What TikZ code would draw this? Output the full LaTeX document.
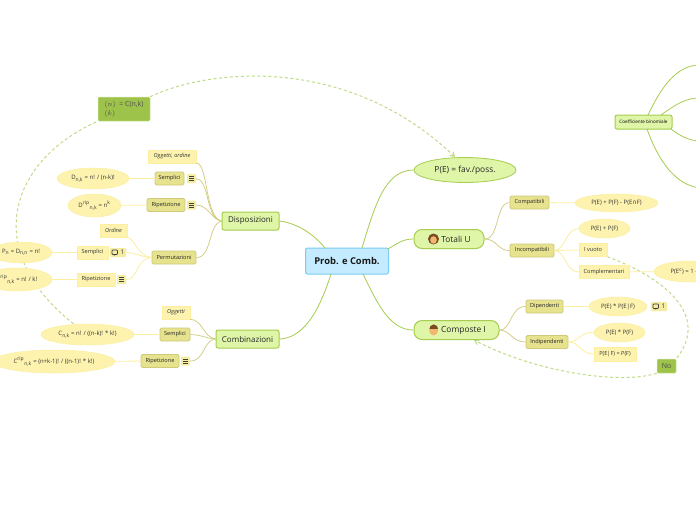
\documentclass[tikz,border=0pt]{standalone}
\usepackage{fontspec}
\setmainfont{Open Sans}
\newfontfamily\symfont{DejaVu Sans}
\usetikzlibrary{arrows.meta, shapes.geometric, calc, backgrounds}
\definecolor{rootline}{HTML}{7CCBF2}
\definecolor{rootfill}{HTML}{C4EBFF}
\definecolor{mainline}{HTML}{A6CD4E}
\definecolor{mainfill}{HTML}{DFF5A8}
\definecolor{subfill}{HTML}{E6E28E}
\definecolor{subline}{HTML}{CFCB7A}
\definecolor{leaffill}{HTML}{FDF3AE}
\definecolor{leafline}{HTML}{FCEFA0}
\definecolor{dashline}{HTML}{BEDB85}
\definecolor{hairbrown}{HTML}{7A4A24}
\definecolor{skintone}{HTML}{F2B76E}
\tikzset{
  rootbox/.style={draw=rootline, fill=rootfill, line width=1pt, rounded corners=2pt, font=\bfseries\fontsize{9.4}{12}\selectfont, text=black!90, inner sep=0pt},
  mainbox/.style={draw=mainline, fill=mainfill, line width=1pt, rounded corners=2pt, font=\fontsize{8}{10}\selectfont, text=black!85, inner sep=0pt},
  mainpill/.style={mainbox, rounded corners=8pt},
  mainoval/.style={draw=mainline, fill=mainfill, line width=.8pt, ellipse, font=\fontsize{8.4}{10}\selectfont, text=black!85, inner sep=0pt},
  coefbox/.style={mainbox, font=\fontsize{4.6}{7}\selectfont, text=black},
  subbox/.style={draw=subline, fill=subfill, line width=.8pt, rounded corners=1.5pt, font=\fontsize{5.6}{8}\selectfont, text=black!85, inner sep=0pt},
  leafbox/.style={draw=leafline, fill=leaffill, line width=.5pt, font=\fontsize{5.6}{8}\selectfont, text=black!80, inner sep=0pt},
  leafoval/.style={leafbox, ellipse, font=\fontsize{6}{8}\selectfont},
  hintbox/.style={leafbox, font=\itshape\fontsize{5.6}{8}\selectfont},
  notebox/.style={draw=dashline!70, fill=mainline!95!black, rounded corners=1pt, line width=.5pt, font=\fontsize{7}{8}\selectfont, text=black!70, inner sep=0pt},
  iconbox/.style={fill=leaffill!60!subfill, rounded corners=1pt, inner sep=0pt, minimum width=9pt, minimum height=9pt},
  mainlink/.style={draw=mainline, line width=.8pt},
  sublink/.style={draw=subline, line width=.7pt},
  leaflink/.style={draw=leafline, line width=.8pt},
  rellink/.style={draw=dashline, line width=1pt, dash pattern=on 3pt off 2.5pt},
  relarrow/.style={rellink, -{Straight Barb[length=4pt,width=5pt]}},
}
\newcommand{\boxnode}[6]{\node[#1, minimum width=#5pt, minimum height=#6pt] (#2) at #3 {#4};}
\newcommand{\linesicon}[1]{\draw[black!75, line width=.7pt] ($(#1)+(-2.5,-2)$) -- ++(5,0) ($(#1)+(-2.5,0)$) -- ++(5,0) ($(#1)+(-2.5,2)$) -- ++(5,0);}
\newcommand{\talkicon}[1]{\draw[black!75, line width=.7pt, rounded corners=.8pt] ($(#1)+(-6,-2.5)$) rectangle ++(5.5,4.5) ($(#1)+(-4,2)$) -- ++(.3,1.2) -- ++(1,-1.2);}
\begin{document}
\begin{tikzpicture}[x=1pt, y=-1pt]
  \useasboundingbox (0,0) rectangle (696,520);
  % free ends on the right border
  \coordinate (coefA) at (700,65);
  \coordinate (coefB) at (700,98);
  \coordinate (coefC) at (700,141);
  \coordinate (coefD) at (700,188);
  % nodes of the map
  \boxnode{rootbox}{root}{(347,261)}{Prob. e Comb.}{83}{26}
  \boxnode{mainoval}{pe}{(465,170)}{P(E) = fav./poss.}{102}{25}
  \boxnode{mainpill}{totali}{(449,239)}{\hspace{14pt}\fontsize{8.4}{10}\selectfont Totali U}{70}{19}
  \boxnode{mainpill}{composte}{(456.5,330)}{\hspace{14pt}\fontsize{8.4}{10}\selectfont Composte I}{85}{19}
  \boxnode{mainbox}{disp}{(250.5,221)}{Disposizioni}{57}{18}
  \boxnode{mainbox}{comb}{(247.5,339)}{Combinazioni}{63}{18}
  \boxnode{coefbox}{coef}{(643.5,122)}{Coefficiente binomiale}{57}{14}
  \node[notebox, minimum width=52pt, minimum height=24pt, align=left] (binom) at (124,109) {$(n)$ \ = C(n,k)\\[1.5pt]$(k)$\hspace{27pt}\null};
  % left, upper part
  \boxnode{hintbox}{oggord}{(172,156.5)}{Oggetti, ordine}{48}{13}
  \boxnode{subbox}{dsem}{(169.5,178.5)}{Semplici}{29}{13}
  \node[iconbox] (dsemi) at (191.5,178.5) {};
  \boxnode{leafoval}{dsemv}{(93,178.5)}{D\textsubscript{n,k} = n! / (n-k)!}{72}{21}
  \boxnode{subbox}{drip}{(166,205)}{Ripetizione}{38}{13}
  \node[iconbox] (dripi) at (191.5,205) {};
  \boxnode{leafoval}{dripv}{(94.5,205.5)}{D\textsuperscript{rip}\textsubscript{n,k} = n\textsuperscript{k}}{53}{23}
  \boxnode{subbox}{perm}{(174,257.5)}{Permutazioni}{44}{13}
  \boxnode{hintbox}{ordine}{(113.5,230.5)}{Ordine}{27}{13}
  \boxnode{leafbox}{psem}{(92.5,252.5)}{Semplici}{31}{13}
  \node[iconbox, minimum width=16pt] (psemi) at (118,252.5) {};
  \boxnode{leafoval}{psemv}{(21,252.5)}{P\textsubscript{n} = D\textsubscript{n,n} = n!}{62}{21}
  \boxnode{leafbox}{prip}{(96,279.5)}{Ripetizione}{38}{13}
  \node[iconbox] (pripi) at (121.5,279.5) {};
  \boxnode{leafoval}{pripv}{(17,279.5)}{P\textsuperscript{rip}\textsubscript{n,k} = n! / k!}{70}{23}
  % left, lower part
  \boxnode{hintbox}{ogg}{(176,312.5)}{Oggetti}{28}{13}
  \boxnode{subbox}{csem}{(175,334.5)}{Semplici}{30}{13}
  \boxnode{leafoval}{csemv}{(87.5,334.5)}{C\textsubscript{n,k} = n! / ((n-k)! * k!)}{93}{21}
  \boxnode{subbox}{crip}{(160,361)}{Ripetizione}{38}{13}
  \node[iconbox] (cripi) at (185.5,361) {};
  \boxnode{leafoval}{cripv}{(54,361.5)}{C\textsuperscript{rip}\textsubscript{n,k} = (n+k-1)! / ((n-1)! * k!)}{122}{23}
  % right part
  \boxnode{subbox}{compat}{(529.5,202.5)}{Compatibili}{39}{13}
  \boxnode{leafoval}{compatv}{(616.5,203)}{P(E) + P(F) - P(E{\symfont ∩}F)}{83}{18}
  \boxnode{subbox}{incomp}{(532,250.5)}{Incompatibili}{44}{13}
  \boxnode{leafoval}{incompv}{(604.5,228.5)}{P(E) + P(F)}{51}{19}
  \boxnode{leafbox}{vuoto}{(593,250)}{I vuoto}{28}{13}
  \boxnode{leafbox}{compl}{(604,272)}{Complementari}{50}{13}
  \boxnode{leafoval}{complv}{(690,271.5)}{P(E\textsuperscript{c}) = 1 - P(E)}{72}{21}
  \boxnode{subbox}{dip}{(544.5,306.5)}{Dipendenti}{37}{13}
  \boxnode{leafoval}{dipv}{(618,306.5)}{P(E) * P(E|F)}{58}{19}
  \node[iconbox, minimum width=16pt] (dipi) at (659,306.5) {};
  \boxnode{subbox}{indip}{(547,342)}{Indipendenti}{42}{13}
  \boxnode{leafoval}{indipv}{(619.5,332.5)}{P(E) * P(F)}{51}{19}
  \boxnode{leafbox}{indipw}{(615,354)}{P(E|F) = P(F)}{42}{14}
  \node[notebox, minimum width=19pt, minimum height=14pt] (no) at (666.5,366) {No};
  % small marks inside the icon boxes
  \linesicon{dsemi} \linesicon{dripi} \linesicon{pripi} \linesicon{cripi}
  \talkicon{psemi} \talkicon{dipi}
  \node[font=\fontsize{6.5}{8}\selectfont, text=black!80, inner sep=0pt] (psemn) at ($(psemi)+(4.5,0)$) {1};
  \node[font=\fontsize{6.5}{8}\selectfont, text=black!80, inner sep=0pt] (dipn) at ($(dipi)+(4.5,0)$) {1};
  % faces
  \fill[hairbrown] (433.5,239) circle (5.5pt);
  \fill[skintone] (433.5,240) ellipse (3.3pt and 3.8pt);
  \fill[skintone] (433.7,330) ellipse (4.5pt and 5.5pt);
  \begin{scope}
    \clip (429,324) rectangle (439,328.3);
    \fill[hairbrown] (433.7,330) ellipse (4.6pt and 5.6pt);
  \end{scope}
  % dashed relations go under the nodes
  \begin{pgfonlayer}{background}
    \fill[white] (0,0) rectangle (696,520);
    \draw[rellink] (csemv.north) ++(-14,0) .. controls (-20,250) and (10,160) .. (binom.south west);
    \draw[relarrow] (binom.north east) .. controls (205,70) and (345,52) .. (455,157);
    \draw[rellink] (vuoto.south east) .. controls (650,272) and (715,310) .. (no.north east);
    \draw[relarrow] (no.south west) .. controls (620,385) and (535,372) .. (474,340);
  \end{pgfonlayer}
  % branches
  \draw[mainlink] (362,248) .. controls (375,205) and (385,170) .. (pe.west);
  \draw[mainlink] (388,249) .. controls (398,243) and (403,239) .. (totali.west);
  \draw[mainlink] (363,274) .. controls (378,305) and (390,330) .. (composte.west);
  \draw[mainlink] (325,248) .. controls (312,232) and (295,223) .. (disp.east);
  \draw[mainlink] (331,274) .. controls (318,315) and (302,338) .. (comb.east);
  \draw[mainlink] (648,115) .. controls (660,90) and (675,65) .. (coefA);
  \draw[mainlink] (661,115) .. controls (675,105) and (685,98) .. (coefB);
  \draw[mainlink] (671,129) .. controls (680,136) and (690,141) .. (coefC);
  \draw[mainlink] (647,129) .. controls (658,160) and (675,185) .. (coefD);
  % sub branches
  \draw[sublink] (disp.west) .. controls (205,218) and (208,162) .. (oggord.south east);
  \draw[sublink] (disp.west) .. controls (205,218) and (210,180) .. (dsemi.east);
  \draw[sublink] (disp.west) .. controls (212,220) and (208,205) .. (dripi.east);
  \draw[sublink] (disp.west) .. controls (208,224) and (212,258) .. (perm.east);
  \draw[leaflink] (perm.west) .. controls (138,256) and (134,238) .. (ordine.south east);
  \draw[leaflink] (perm.west) .. controls (140,257) and (138,253) .. (psemi.east);
  \draw[leaflink] (perm.west) .. controls (136,258) and (138,280) .. (pripi.east);
  \draw[leaflink] (dsem) -- (dsemv);
  \draw[leaflink] (drip) -- (dripv);
  \draw[leaflink] (psem) -- (psemv);
  \draw[leaflink] (prip) -- (pripv);
  \draw[sublink] (comb.west) .. controls (203,337) and (203,320) .. (ogg.south east);
  \draw[sublink] (comb.west) .. controls (205,338) and (202,335) .. (csem.east);
  \draw[sublink] (comb.west) .. controls (203,340) and (205,361) .. (cripi.east);
  \draw[leaflink] (csem) -- (csemv);
  \draw[leaflink] (crip) -- (cripv);
  \draw[sublink] (totali.east) .. controls (500,239) and (495,203) .. (compat.west);
  \draw[sublink] (totali.east) .. controls (497,239) and (498,251) .. (incomp.west);
  \draw[leaflink] (compat) -- (compatv);
  \draw[leaflink] (incomp.east) .. controls (566,250) and (565,229) .. (incompv.west);
  \draw[leaflink] (incomp.east) -- (vuoto.west);
  \draw[leaflink] (incomp.east) .. controls (566,251) and (565,272) .. (compl.west);
  \draw[leaflink] (compl) -- (complv);
  \draw[sublink] (composte.east) .. controls (512,330) and (510,306) .. (dip.west);
  \draw[sublink] (composte.east) .. controls (510,330) and (512,342) .. (indip.west);
  \draw[leaflink] (dip) -- (dipv);
  \draw[leaflink] (indip.east) .. controls (580,342) and (578,332) .. (indipv.west);
  \draw[leaflink] (indip.east) .. controls (580,342) and (580,354) .. (indipw.west);
\end{tikzpicture}
\end{document}
